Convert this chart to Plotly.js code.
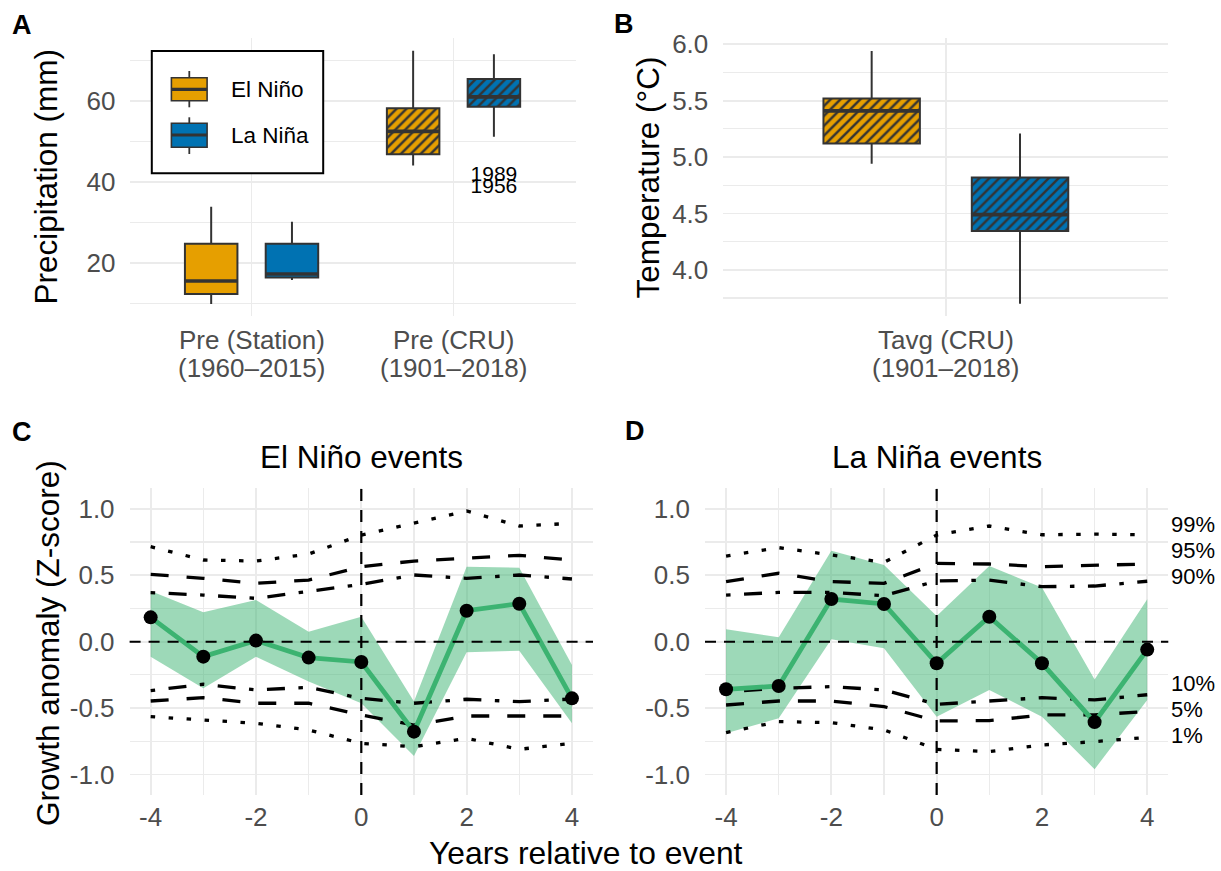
<!DOCTYPE html>
<html><head><meta charset="utf-8">
<script src="https://cdn.plot.ly/plotly-3.0.1.min.js"></script>
<style>html,body{margin:0;padding:0;background:#fff}#chart{width:1221px;height:871px}</style>
</head><body><div id="chart"></div>
<script>
// ---------- Panel A: precipitation ----------
const precipCategories = ["Pre (Station)", "Pre (CRU)"];
const precipPeriods = ["(1960–2015)", "(1901–2018)"];
const precipHatched = [false, true];
const ninoPrecipLow  = [9.97, 44.1];
const ninoPrecipQ1   = [12.44, 46.87];
const ninoPrecipMed  = [15.64, 52.5];
const ninoPrecipQ3   = [24.83, 58.2];
const ninoPrecipHigh = [33.95, 72.4];
const ninaPrecipLow  = [15.89, 51.2];
const ninaPrecipQ1   = [16.46, 58.6];
const ninaPrecipMed  = [17.37, 61.0];
const ninaPrecipQ3   = [24.83, 65.4];
const ninaPrecipHigh = [30.26, 71.5];
const outlierYears = ["1989", "1956"];
const outlierPrecip = [41.6, 38.6];
const precipTickVals = [20, 40, 60];
const precipTickText = ["20", "40", "60"];

// ---------- Panel B: temperature ----------
const tempCategories = ["Tavg (CRU)"];
const tempPeriods = ["(1901–2018)"];
const tempHatched = [true];
const ninoTempLow  = [4.94];
const ninoTempQ1   = [5.12];
const ninoTempMed  = [5.41];
const ninoTempQ3   = [5.52];
const ninoTempHigh = [5.94];
const ninaTempLow  = [3.70];
const ninaTempQ1   = [4.345];
const ninaTempMed  = [4.49];
const ninaTempQ3   = [4.82];
const ninaTempHigh = [5.21];
const tempTickVals = [4.0, 4.5, 5.0, 5.5, 6.0];
const tempTickText = ["4.0", "4.5", "5.0", "5.5", "6.0"];

// ---------- Panels C / D: growth anomaly ----------
const years = [-4, -3, -2, -1, 0, 1, 2, 3, 4];
const yearTickVals = [-4, -2, 0, 2, 4];
const yearTickText = ["-4", "-2", "0", "2", "4"];
const zTickVals = [-1, -0.5, 0, 0.5, 1];
const zTickText = ["-1.0", "-0.5", "0.0", "0.5", "1.0"];

const ninoMean  = [0.183, -0.113, 0.008, -0.120, -0.153, -0.678, 0.233, 0.286, -0.427];
const ninoUpper = [0.382, 0.221, 0.314, 0.075, 0.188, -0.45, 0.565, 0.557, -0.176];
const ninoLower = [-0.113, -0.351, -0.113, -0.30, -0.464, -0.861, -0.080, -0.068, -0.615];
const ninoP99 = [0.715, 0.615, 0.607, 0.660, 0.803, 0.896, 0.984, 0.871, 0.891];
const ninoP95 = [0.507, 0.477, 0.439, 0.464, 0.565, 0.607, 0.628, 0.650, 0.615];
const ninoP90 = [0.369, 0.351, 0.326, 0.377, 0.432, 0.502, 0.477, 0.502, 0.472];
const ninoP10 = [-0.369, -0.321, -0.364, -0.344, -0.427, -0.464, -0.434, -0.452, -0.432];
const ninoP05 = [-0.447, -0.422, -0.464, -0.464, -0.552, -0.628, -0.560, -0.560, -0.560];
const ninoP01 = [-0.565, -0.590, -0.615, -0.665, -0.766, -0.791, -0.728, -0.811, -0.766];

const ninaMean  = [-0.359, -0.334, 0.321, 0.284, -0.163, 0.188, -0.163, -0.606, -0.060];
const ninaUpper = [0.093, 0.033, 0.685, 0.577, 0.193, 0.570, 0.407, -0.286, 0.320];
const ninaLower = [-0.690, -0.577, 0.018, -0.050, -0.565, -0.364, -0.565, -0.961, -0.439];
const ninaP99 = [0.645, 0.708, 0.653, 0.597, 0.803, 0.871, 0.805, 0.810, 0.805];
const ninaP95 = [0.452, 0.515, 0.452, 0.439, 0.590, 0.585, 0.565, 0.578, 0.585];
const ninaP90 = [0.351, 0.371, 0.371, 0.346, 0.457, 0.464, 0.414, 0.419, 0.455];
const ninaP10 = [-0.377, -0.351, -0.339, -0.364, -0.472, -0.447, -0.422, -0.439, -0.400];
const ninaP05 = [-0.477, -0.447, -0.447, -0.489, -0.597, -0.595, -0.552, -0.552, -0.525];
const ninaP01 = [-0.685, -0.602, -0.610, -0.665, -0.811, -0.828, -0.778, -0.753, -0.721];

const pctLabels = ["99%", "95%", "90%", "10%", "5%", "1%"];
const pctLabelY = [0.886, 0.690, 0.489, -0.313, -0.509, -0.710];

// ---------- styling ----------
const FONT = "Liberation Sans, Arial, Helvetica, sans-serif";
const ORANGE = "#E69F00", BLUE = "#0072B2", DARK = "#333333";
const GREEN = "#3CB371", RIBBON = "rgba(60,179,113,0.5)";
const GRID = "#EBEBEB", TICKCOL = "#4D4D4D";
const W = 1221, H = 871;
const px = v => v / W;
const py = v => 1 - v / H;
const DODGE = 0.2, BOXW = 0.26;

const traces = [];

function addBoxes(ax, ay, cats, hatched, low, q1, med, q3, high, color, shift) {
  const pos = cats.map((c, i) => i + 1 + shift);
  traces.push({
    type: "bar", xaxis: ax, yaxis: ay, x: pos, base: q1,
    y: q3.map((v, i) => v - q1[i]), width: BOXW,
    marker: { color: color, line: { width: 0 },
      pattern: { shape: hatched.map(h => h ? "/" : ""), fgcolor: DARK, bgcolor: color, size: 7, solidity: 0.35 } },
    hoverinfo: "skip", showlegend: false
  });
  traces.push({
    type: "box", xaxis: ax, yaxis: ay, x: pos, q1: q1, median: med, q3: q3,
    lowerfence: low, upperfence: high, width: BOXW, whiskerwidth: 0,
    fillcolor: "rgba(0,0,0,0)", line: { color: DARK, width: 2 },
    boxpoints: false, hoverinfo: "skip", showlegend: false
  });
  const mx = [], my = [];
  pos.forEach((p, i) => { mx.push(p - BOXW / 2, p + BOXW / 2, null); my.push(med[i], med[i], null); });
  traces.push({ type: "scatter", mode: "lines", xaxis: ax, yaxis: ay, x: mx, y: my,
    line: { color: DARK, width: 3.6 }, hoverinfo: "skip", showlegend: false });
}

addBoxes("x", "y", precipCategories, precipHatched, ninoPrecipLow, ninoPrecipQ1, ninoPrecipMed, ninoPrecipQ3, ninoPrecipHigh, ORANGE, -DODGE);
addBoxes("x", "y", precipCategories, precipHatched, ninaPrecipLow, ninaPrecipQ1, ninaPrecipMed, ninaPrecipQ3, ninaPrecipHigh, BLUE, DODGE);
traces.push({ type: "scatter", mode: "text", xaxis: "x", yaxis: "y",
  x: outlierYears.map(() => 2 + DODGE), y: outlierPrecip, text: outlierYears,
  textposition: "middle center", textfont: { family: FONT, size: 21, color: "black" },
  hoverinfo: "skip", showlegend: false, cliponaxis: false });

addBoxes("x2", "y2", tempCategories, tempHatched, ninoTempLow, ninoTempQ1, ninoTempMed, ninoTempQ3, ninoTempHigh, ORANGE, -DODGE);
addBoxes("x2", "y2", tempCategories, tempHatched, ninaTempLow, ninaTempQ1, ninaTempMed, ninaTempQ3, ninaTempHigh, BLUE, DODGE);

function addAnomaly(ax, ay, mean, upper, lower, p99, p95, p90, p10, p05, p01) {
  traces.push({ type: "scatter", mode: "lines", xaxis: ax, yaxis: ay, x: years, y: lower,
    line: { width: 0, color: RIBBON }, hoverinfo: "skip", showlegend: false });
  traces.push({ type: "scatter", mode: "lines", xaxis: ax, yaxis: ay, x: years, y: upper,
    fill: "tonexty", fillcolor: RIBBON, line: { width: 0, color: RIBBON }, hoverinfo: "skip", showlegend: false });
  const DOT = "4.5px,13.5px", DASH = "18px,18px", DOTDASH = "4.5px,13.5px,18px,13.5px";
  [[p99, DOT], [p95, DASH], [p90, DOTDASH], [p10, DOTDASH], [p05, DASH], [p01, DOT]].forEach(([s, d]) => {
    traces.push({ type: "scatter", mode: "lines", xaxis: ax, yaxis: ay, x: years, y: s,
      line: { color: "black", width: 3.3, dash: d }, hoverinfo: "skip", showlegend: false });
  });
  traces.push({ type: "scatter", mode: "lines+markers", xaxis: ax, yaxis: ay, x: years, y: mean,
    line: { color: GREEN, width: 4.8 }, marker: { color: "black", size: 14 },
    hoverinfo: "skip", showlegend: false, cliponaxis: false });
}
addAnomaly("x3", "y3", ninoMean, ninoUpper, ninoLower, ninoP99, ninoP95, ninoP90, ninoP10, ninoP05, ninoP01);
addAnomaly("x4", "y4", ninaMean, ninaUpper, ninaLower, ninaP99, ninaP95, ninaP90, ninaP10, ninaP05, ninaP01);

const tickFont = { family: FONT, size: 26, color: TICKCOL };
const baseAxis = { showline: false, zeroline: false, ticks: "", gridcolor: GRID, gridwidth: 1.8,
  tickfont: tickFont, fixedrange: true, tickmode: "array" };

function yAx(domain, range, tv, tt, minor, anchor) {
  return Object.assign({}, baseAxis, { domain: domain, range: range, tickvals: tv, ticktext: tt,
    anchor: anchor, ticklabelstandoff: 14,
    minor: { tickmode: "array", tickvals: minor, showgrid: true, gridcolor: GRID, gridwidth: 1.2, ticks: "" } });
}
function xAx(domain, range, tv, tt, minor, anchor, showLabels) {
  const o = Object.assign({}, baseAxis, { domain: domain, range: range, tickvals: tv, ticktext: tt,
    anchor: anchor, ticklabelstandoff: 4, showticklabels: showLabels });
  if (minor) o.minor = { tickmode: "array", tickvals: minor, showgrid: true, gridcolor: GRID, gridwidth: 1.2, ticks: "" };
  return o;
}

const topDom = [py(316), py(38.3)];
const botDom = [py(795), py(488.3)];

const layout = {
  width: W, height: H, margin: { l: 0, r: 0, t: 0, b: 0 },
  paper_bgcolor: "white", plot_bgcolor: "white",
  font: { family: FONT, color: "black" },
  showlegend: false, barmode: "overlay", boxmode: "overlay",
  xaxis: xAx([px(130.4), px(575.7)], [0.4, 2.605], [1, 2], precipCategories, null, "y", false),
  yaxis: yAx(topDom, [7.0, 75.45], precipTickVals, precipTickText, [10, 30, 50, 70], "x"),
  xaxis2: xAx([px(723.3), px(1168.4)], [0.4, 1.6], [1], tempCategories, null, "y2", false),
  yaxis2: yAx(topDom, [3.591, 6.053], tempTickVals, tempTickText, [3.75, 4.25, 4.75, 5.25, 5.75], "x2"),
  xaxis3: xAx([px(129.6), px(593)], [-4.4, 4.4], yearTickVals, yearTickText, [-3, -1, 1, 3], "y3", true),
  yaxis3: yAx(botDom, [-1.155, 1.155], zTickVals, zTickText, [-0.75, -0.25, 0.25, 0.75], "x3"),
  xaxis4: xAx([px(705), px(1168.3)], [-4.4, 4.4], yearTickVals, yearTickText, [-3, -1, 1, 3], "y4", true),
  yaxis4: yAx(botDom, [-1.155, 1.155], zTickVals, zTickText, [-0.75, -0.25, 0.25, 0.75], "x4"),
  shapes: [],
  annotations: []
};

// category labels of panels A and B (two lines, placed at the category positions)
function catLabels(xref, names, periods) {
  names.forEach((n, i) => {
    layout.annotations.push({ text: n, xref: xref, yref: "paper", x: i + 1, y: py(340), showarrow: false,
      xanchor: "center", yanchor: "middle", font: { family: FONT, size: 26, color: TICKCOL } });
    layout.annotations.push({ text: periods[i], xref: xref, yref: "paper", x: i + 1, y: py(368), showarrow: false,
      xanchor: "center", yanchor: "middle", font: { family: FONT, size: 26, color: TICKCOL } });
  });
}
catLabels("x", precipCategories, precipPeriods);
catLabels("x2", tempCategories, tempPeriods);

// reference lines at zero in C and D
[["x3", "y3"], ["x4", "y4"]].forEach(([xa, ya]) => {
  layout.shapes.push({ type: "line", xref: xa + " domain", x0: 0, x1: 1, yref: ya, y0: 0, y1: 0,
    line: { color: "black", width: 2, dash: "11px,8px" }, layer: "above" });
  layout.shapes.push({ type: "line", xref: xa, x0: 0, x1: 0, yref: ya + " domain", y0: 0, y1: 1,
    line: { color: "black", width: 2.2, dash: "12px,9px" }, layer: "above" });
});

// legend (panel A)
layout.shapes.push({ type: "rect", xref: "paper", yref: "paper", x0: px(151.8), x1: px(323.2), y0: py(173.3), y1: py(51),
  line: { color: "black", width: 2 }, fillcolor: "white", layer: "above" });
function legendKey(top, bottom, med, wTop, wBot, color) {
  const xl = px(171.4), xr = px(207.1), xc = px(189.3);
  layout.shapes.push({ type: "line", xref: "paper", yref: "paper", x0: xc, x1: xc, y0: py(wTop), y1: py(top), line: { color: DARK, width: 1.8 }, layer: "above" });
  layout.shapes.push({ type: "line", xref: "paper", yref: "paper", x0: xc, x1: xc, y0: py(bottom), y1: py(wBot), line: { color: DARK, width: 1.8 }, layer: "above" });
  layout.shapes.push({ type: "rect", xref: "paper", yref: "paper", x0: xl, x1: xr, y0: py(bottom), y1: py(top), fillcolor: color, line: { color: DARK, width: 1.6 }, layer: "above" });
  layout.shapes.push({ type: "line", xref: "paper", yref: "paper", x0: xl, x1: xr, y0: py(med), y1: py(med), line: { color: DARK, width: 3.2 }, layer: "above" });
}
legendKey(77.7, 100.7, 89.3, 71, 107.3, ORANGE);
legendKey(123.3, 147.3, 135, 117.3, 154, BLUE);

function ann(text, x, y, size, opts) {
  layout.annotations.push(Object.assign({ text: text, xref: "paper", yref: "paper", x: px(x), y: py(y),
    showarrow: false, xanchor: "center", yanchor: "middle", font: { family: FONT, size: size, color: "black" } }, opts || {}));
}
ann("El Niño", 228.6, 90, 22.5, { xanchor: "left" });
ann("La Niña", 228.6, 136, 22.5, { xanchor: "left" });

// panel tags
ann("<b>A</b>", 22, 25, 27);
ann("<b>B</b>", 623.7, 24, 27);
ann("<b>C</b>", 21.7, 431.7, 27);
ann("<b>D</b>", 634.6, 430.7, 27);

// panel titles
ann("El Niño events", 361.3, 456.7, 31.5);
ann("La Niña events", 936.6, 456.7, 31.5);

// axis titles
ann("Precipitation (mm)", 45.5, 177, 31.5, { textangle: -90 });
ann("Temperature (°C)", 648, 177.5, 31.5, { textangle: -90 });
ann("Growth anomaly (Z-score)", 48, 643, 31.5, { textangle: -90 });
ann("Years relative to event", 586, 853, 31.8);

// percentile labels in panel D
pctLabels.forEach((t, i) => {
  layout.annotations.push({ text: t, xref: "paper", yref: "y4", x: px(1169), y: pctLabelY[i],
    showarrow: false, xanchor: "left", yanchor: "middle", font: { family: FONT, size: 22, color: "black" } });
});

Plotly.newPlot("chart", traces, layout, { staticPlot: true, displayModeBar: false });
</script>
</body></html>
